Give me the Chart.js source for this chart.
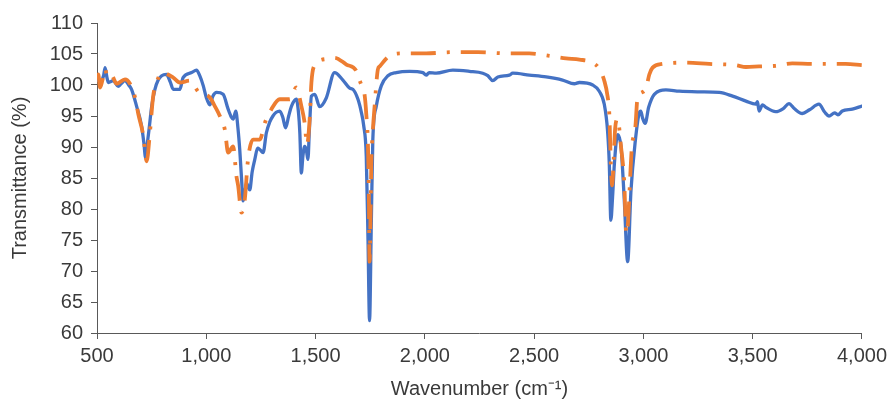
<!DOCTYPE html>
<html>
<head>
<meta charset="utf-8">
<script src="https://cdn.jsdelivr.net/npm/chart.js@4.4.1/dist/chart.umd.min.js"></script>
<style>
  body { margin: 0; background: #fff; }
</style>
</head>
<body>
<canvas id="irChart" width="892" height="401"></canvas>
<script>
// blue spectrum (solid)
const blueWn = [500, 506, 515, 530, 537, 545, 552, 574, 597, 610, 628, 645, 658, 681, 704, 715, 722, 730, 738, 750, 765, 780, 796, 818, 835, 849, 879, 894, 933, 955, 970, 986, 1000, 1016, 1030, 1047, 1077, 1100, 1115, 1123, 1135, 1145, 1153, 1162, 1168, 1176, 1184, 1192, 1199, 1210, 1222, 1235, 1245, 1260, 1275, 1290, 1305, 1320, 1336, 1350, 1363, 1377, 1390, 1412, 1422, 1428, 1435, 1442, 1450, 1458, 1465, 1472, 1481, 1496, 1519, 1549, 1587, 1625, 1656, 1671, 1694, 1710, 1720, 1732, 1740, 1747, 1755, 1762, 1778, 1801, 1831, 1869, 1930, 1991, 2006, 2020, 2052, 2128, 2204, 2265, 2288, 2311, 2334, 2387, 2402, 2478, 2555, 2630, 2684, 2707, 2768, 2798, 2821, 2836, 2844, 2851, 2859, 2867, 2882, 2890, 2898, 2912, 2928, 2943, 2963, 2981, 2988, 2996, 3008, 3024, 3050, 3103, 3164, 3255, 3347, 3408, 3469, 3514, 3522, 3529, 3545, 3560, 3605, 3640, 3666, 3690, 3727, 3760, 3803, 3830, 3849, 3875, 3890, 3910, 3956, 4000]
const blueT = [100.9, 100.7, 100.6, 101.5, 102.8, 101.3, 100.4, 100.7, 99.8, 100.2, 100.7, 100.0, 99.3, 96.6, 93.4, 90.5, 88.3, 90.5, 92.8, 96.5, 99.3, 100.8, 101.5, 101.7, 100.5, 99.3, 99.3, 101.2, 102.0, 102.4, 101.5, 99.9, 98.0, 96.8, 98.2, 98.8, 98.5, 96.1, 94.8, 94.5, 95.8, 93.0, 89.6, 84.5, 81.3, 82.5, 84.2, 83.5, 83.1, 86.0, 88.0, 89.8, 89.6, 89.1, 92.3, 94.0, 95.0, 95.6, 95.8, 94.8, 93.1, 95.0, 96.6, 97.7, 95.5, 92.3, 85.8, 88.5, 90.1, 89.5, 88.0, 93.0, 98.2, 98.5, 96.5, 97.9, 102.0, 100.8, 99.5, 99.3, 97.7, 95.5, 93.5, 88.5, 75.0, 62.0, 77.7, 91.2, 96.6, 99.9, 101.5, 102.0, 102.2, 102.0, 101.6, 102.0, 101.9, 102.4, 102.2, 101.9, 101.5, 100.7, 101.3, 101.6, 101.9, 101.6, 101.3, 100.8, 100.2, 100.4, 100.0, 99.0, 96.9, 92.6, 87.2, 78.2, 82.0, 87.2, 92.0, 91.5, 89.9, 81.8, 71.5, 82.9, 91.0, 95.5, 95.8, 94.7, 93.8, 96.4, 98.5, 99.2, 99.0, 98.9, 98.8, 98.2, 97.4, 96.9, 97.3, 95.8, 96.8, 96.4, 95.7, 96.2, 97.0, 96.2, 95.4, 96.0, 96.9, 95.6, 95.0, 95.5, 95.2, 95.8, 96.1, 96.6]

// orange spectrum (dash-dot)
const orangeWn = [500, 506, 514, 525, 537, 548, 567, 590, 628, 651, 674, 689, 712, 727, 742, 757, 773, 796, 849, 879, 925, 966, 1016, 1039, 1062, 1085, 1100, 1123, 1138, 1146, 1161, 1176, 1191, 1214, 1245, 1268, 1298, 1336, 1382, 1412, 1435, 1450, 1461, 1473, 1481, 1496, 1549, 1587, 1641, 1686, 1702, 1717, 1724, 1732, 1740, 1744, 1747, 1751, 1755, 1762, 1770, 1785, 1793, 1839, 1900, 2006, 2128, 2243, 2372, 2478, 2570, 2646, 2707, 2768, 2798, 2821, 2836, 2844, 2851, 2857, 2864, 2871, 2882, 2898, 2912, 2922, 2930, 2938, 2947, 2963, 2972, 2981, 3012, 3027, 3042, 3088, 3194, 3301, 3423, 3469, 3529, 3605, 3681, 3773, 3849, 3925, 4000]
const orangeT = [101.5, 101.7, 99.6, 100.8, 102.6, 101.2, 101.5, 100.2, 100.9, 100.2, 98.0, 95.3, 91.8, 87.7, 92.3, 98.2, 100.4, 102.0, 101.2, 100.4, 100.7, 98.8, 98.0, 96.6, 95.0, 92.8, 89.1, 90.1, 85.3, 83.7, 79.4, 81.5, 88.0, 91.2, 91.2, 93.9, 96.1, 97.7, 97.7, 99.6, 96.6, 93.9, 90.4, 94.5, 100.4, 103.2, 104.2, 104.4, 103.3, 102.3, 100.7, 99.3, 98.5, 95.3, 89.9, 81.8, 71.5, 78.0, 87.2, 92.6, 96.5, 102.5, 103.0, 104.7, 105.1, 105.1, 105.3, 105.3, 105.1, 105.1, 104.7, 104.3, 104.1, 103.6, 102.6, 100.7, 98.2, 95.3, 87.2, 83.8, 88.0, 93.1, 94.5, 89.9, 84.5, 76.0, 78.0, 84.0, 89.9, 93.1, 97.7, 98.5, 99.5, 101.7, 102.8, 103.4, 103.6, 103.4, 103.2, 102.9, 103.0, 103.1, 103.5, 103.4, 103.4, 103.4, 103.2]

const xTicks = [500, 1000, 1500, 2000, 2500, 3000, 3500, 4000]
const yTicks = [60, 65, 70, 75, 80, 85, 90, 95, 100, 105, 110]

const toPoints = (xs, ys) => xs.map((x, i) => ({ x: x, y: ys[i] }))

const textColor = '#3a3a3a'
const axisColor = '#595959'
const font = { family: '"Liberation Sans", Arial, sans-serif', size: 20 }

const ctx = document.getElementById('irChart')

new Chart(ctx, {
  type: 'line',
  data: {
    datasets: [
      {
        label: 'Orange',
        data: toPoints(orangeWn, orangeT),
        borderColor: '#ED7D31',
        borderWidth: 3.8,
        borderDash: [25, 11, 3, 11],
        borderCapStyle: 'butt',
        pointRadius: 0,
        cubicInterpolationMode: 'monotone',
        order: 1
      },
      {
        label: 'Blue',
        data: toPoints(blueWn, blueT),
        borderColor: '#4472C4',
        borderWidth: 3.3,
        borderCapStyle: 'round',
        borderJoinStyle: 'round',
        pointRadius: 0,
        cubicInterpolationMode: 'monotone',
        order: 2
      }
    ]
  },
  options: {
    responsive: false,
    animation: false,
    layout: { padding: { top: 23, right: 29, left: 0, bottom: 0 } },
    plugins: {
      legend: { display: false },
      tooltip: { enabled: false }
    },
    scales: {
      x: {
        type: 'linear',
        min: xTicks[0],
        max: xTicks[xTicks.length - 1],
        afterBuildTicks: scale => { scale.ticks = xTicks.map(v => ({ value: v })) },
        afterFit: scale => { scale.height = 68 },
        border: { display: true, color: axisColor, width: 1 },
        grid: { drawOnChartArea: false, drawTicks: true, tickLength: 6, color: axisColor },
        ticks: {
          color: textColor,
          font: font,
          padding: 5,
          maxRotation: 0,
          callback: v => v.toLocaleString('en-US')
        },
        title: {
          display: true,
          text: 'Wavenumber (cm\u207B\u00B9)',
          color: textColor,
          font: font,
          padding: { top: 0, bottom: 0 }
        }
      },
      y: {
        min: yTicks[0],
        max: yTicks[yTicks.length - 1],
        afterBuildTicks: scale => { scale.ticks = yTicks.map(v => ({ value: v })) },
        afterFit: scale => { scale.width = 97 },
        border: { display: true, color: axisColor, width: 1 },
        grid: { drawOnChartArea: false, drawTicks: true, tickLength: 6, color: axisColor },
        ticks: {
          color: textColor,
          font: font,
          padding: 8
        },
        title: {
          display: true,
          text: 'Transmittance (%)',
          color: textColor,
          font: font,
          padding: { top: 8, bottom: 0 }
        }
      }
    }
  }
})
</script>
</body>
</html>
